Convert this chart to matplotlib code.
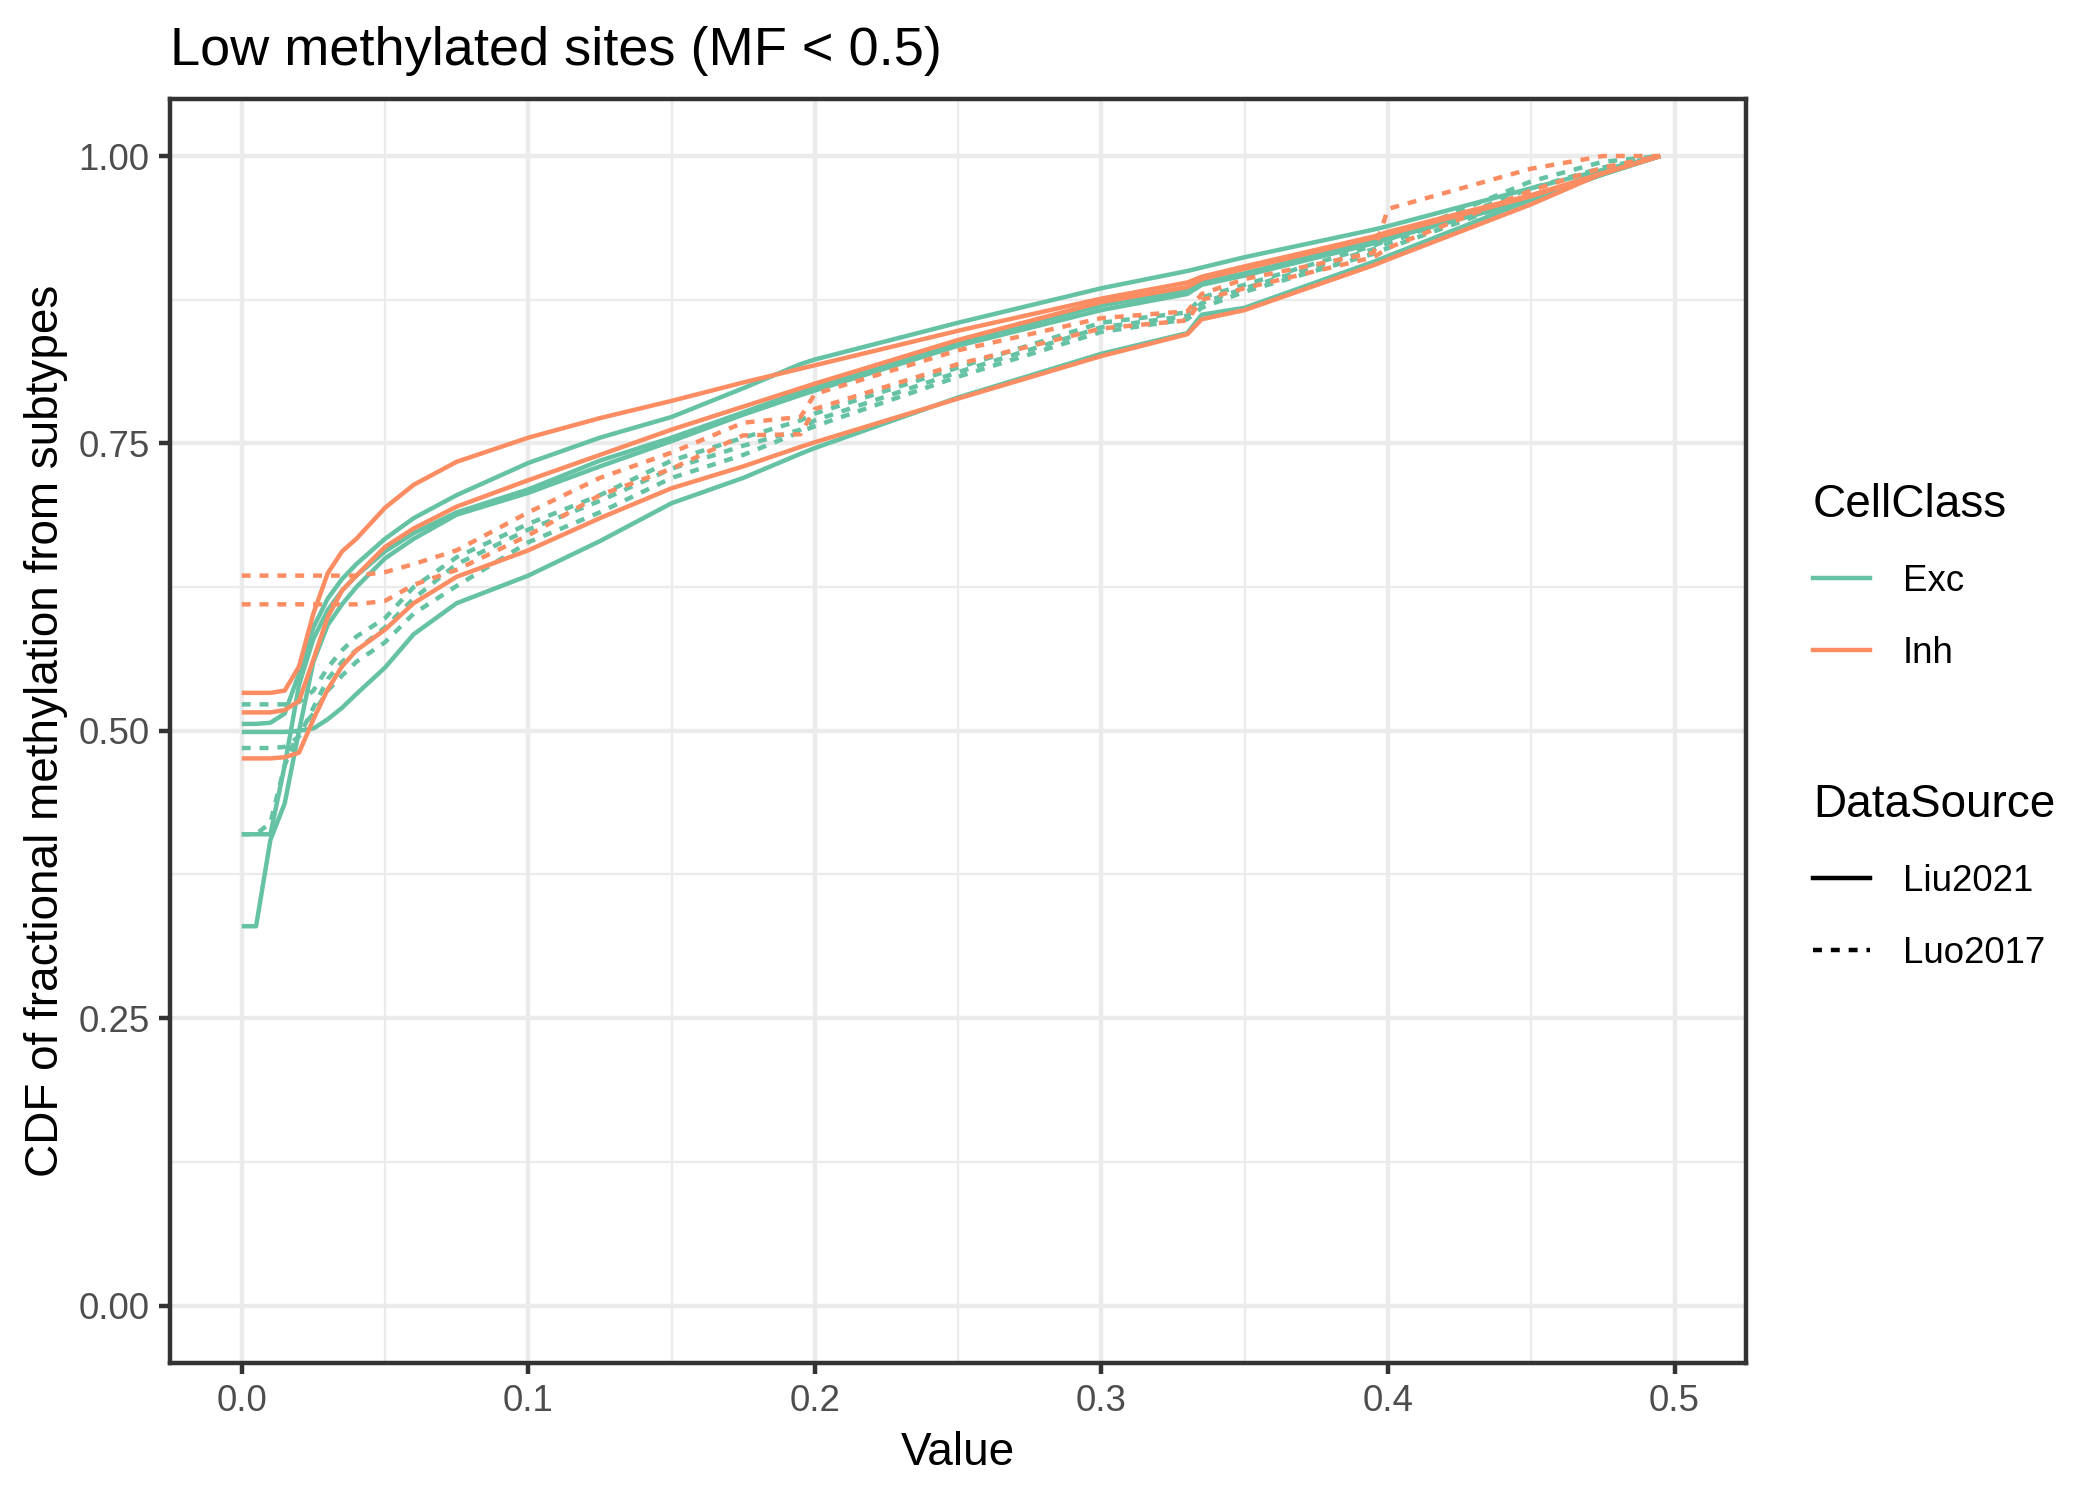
import matplotlib
matplotlib.use("Agg")
from matplotlib import pyplot as plt
from matplotlib.lines import Line2D
from matplotlib.ticker import MultipleLocator, FormatStrFormatter

plt.rcParams['font.family'] = ['Liberation Sans', 'DejaVu Sans']

value = [0, 0.005, 0.01, 0.015, 0.02, 0.025, 0.03, 0.035, 0.04, 0.05, 0.06, 0.075,
         0.1, 0.125, 0.15, 0.175, 0.195, 0.2, 0.25, 0.3, 0.33, 0.335, 0.35,
         0.395, 0.4, 0.45, 0.475, 0.495]

# Exc, Liu2021
exc_liu_1 = [0.506, 0.506, 0.507, 0.515, 0.550, 0.590, 0.615, 0.632, 0.645, 0.667, 0.685, 0.705,
             0.733, 0.755, 0.773, 0.798, 0.819, 0.823, 0.855, 0.885, 0.900, 0.903, 0.912,
             0.936, 0.939, 0.972, 0.988, 1.0]
exc_liu_2 = [0.499, 0.499, 0.499, 0.499, 0.500, 0.502, 0.510, 0.520, 0.532, 0.555, 0.584, 0.611,
             0.635, 0.665, 0.698, 0.720, 0.741, 0.746, 0.790, 0.828, 0.846, 0.862, 0.868,
             0.908, 0.913, 0.962, 0.985, 1.0]
exc_liu_3 = [0.410, 0.410, 0.410, 0.470, 0.540, 0.580, 0.605, 0.622, 0.635, 0.656, 0.672, 0.690,
             0.710, 0.735, 0.755, 0.777, 0.795, 0.799, 0.838, 0.870, 0.883, 0.890, 0.898,
             0.926, 0.930, 0.963, 0.984, 1.0]
exc_liu_4 = [0.330, 0.330, 0.405, 0.437, 0.500, 0.560, 0.592, 0.610, 0.625, 0.650, 0.667, 0.688,
             0.707, 0.730, 0.752, 0.775, 0.792, 0.796, 0.835, 0.866, 0.880, 0.888, 0.896,
             0.924, 0.928, 0.962, 0.984, 1.0]
# Exc, Luo2017
exc_luo_1 = [0.523, 0.523, 0.523, 0.523, 0.525, 0.535, 0.555, 0.570, 0.582, 0.598, 0.625, 0.651,
             0.680, 0.705, 0.735, 0.755, 0.770, 0.776, 0.816, 0.855, 0.864, 0.877, 0.888,
             0.922, 0.927, 0.978, 0.995, 1.0]
exc_luo_2 = [0.485, 0.485, 0.485, 0.486, 0.495, 0.520, 0.545, 0.560, 0.570, 0.590, 0.615, 0.645,
             0.675, 0.700, 0.728, 0.748, 0.762, 0.770, 0.812, 0.851, 0.861, 0.872, 0.885,
             0.919, 0.924, 0.972, 0.990, 1.0]
exc_luo_3 = [0.410, 0.410, 0.420, 0.470, 0.500, 0.515, 0.535, 0.548, 0.560, 0.577, 0.602, 0.626,
             0.664, 0.690, 0.720, 0.740, 0.760, 0.765, 0.808, 0.847, 0.858, 0.868, 0.882,
             0.915, 0.920, 0.965, 0.985, 1.0]
# Inh, Liu2021
inh_liu_1 = [0.533, 0.533, 0.533, 0.535, 0.556, 0.602, 0.637, 0.656, 0.667, 0.694, 0.714, 0.734,
             0.755, 0.772, 0.787, 0.803, 0.815, 0.818, 0.848, 0.876, 0.890, 0.895, 0.904,
             0.930, 0.934, 0.966, 0.985, 1.0]
inh_liu_2 = [0.516, 0.516, 0.516, 0.518, 0.526, 0.562, 0.599, 0.622, 0.635, 0.660, 0.676, 0.695,
             0.718, 0.740, 0.762, 0.782, 0.798, 0.802, 0.840, 0.873, 0.886, 0.893, 0.902,
             0.929, 0.932, 0.965, 0.985, 1.0]
inh_liu_3 = [0.476, 0.476, 0.476, 0.477, 0.481, 0.510, 0.536, 0.556, 0.570, 0.588, 0.611, 0.634,
             0.657, 0.685, 0.711, 0.730, 0.747, 0.751, 0.789, 0.826, 0.845, 0.858, 0.866,
             0.905, 0.910, 0.958, 0.985, 1.0]
# Inh, Luo2017
inh_luo_1 = [0.635, 0.635, 0.635, 0.635, 0.635, 0.635, 0.635, 0.635, 0.635, 0.638, 0.645, 0.657,
             0.690, 0.720, 0.742, 0.768, 0.773, 0.793, 0.831, 0.859, 0.865, 0.880, 0.893,
             0.916, 0.954, 0.989, 1.0, 1.0]
inh_luo_2 = [0.610, 0.610, 0.610, 0.610, 0.610, 0.610, 0.610, 0.610, 0.610, 0.613, 0.627, 0.640,
             0.670, 0.705, 0.728, 0.757, 0.758, 0.780, 0.819, 0.850, 0.857, 0.875, 0.885,
             0.912, 0.920, 0.970, 0.990, 1.0]

exc_liu = [exc_liu_1, exc_liu_2, exc_liu_3, exc_liu_4]
exc_luo = [exc_luo_1, exc_luo_2, exc_luo_3]
inh_liu = [inh_liu_1, inh_liu_2, inh_liu_3]
inh_luo = [inh_luo_1, inh_luo_2]

cell_classes = ['Exc', 'Inh']
data_sources = ['Liu2021', 'Luo2017']
colors = {'Exc': '#66C2A5', 'Inh': '#FC8D62'}
lw = 1.07
dash = (2, 2)

fig = plt.figure(figsize=(7, 5), dpi=300)
ax = fig.add_axes([0.081, 0.0913, 0.7505, 0.843])

groups = [('Exc', 'Liu2021', exc_liu), ('Exc', 'Luo2017', exc_luo),
          ('Inh', 'Liu2021', inh_liu), ('Inh', 'Luo2017', inh_luo)]
for cls, src, curves in groups:
    for cdf in curves:
        if src == 'Liu2021':
            ax.plot(value, cdf, color=colors[cls], lw=lw, solid_capstyle='butt', zorder=3)
        else:
            ax.plot(value, cdf, color=colors[cls], lw=lw, dashes=dash,
                    dash_capstyle='butt', zorder=3)

# ggplot-like expansion of 0..0.5 and 0..1
ax.set_xlim(-0.025, 0.525)
ax.set_ylim(-0.05, 1.05)

ax.xaxis.set_major_locator(MultipleLocator(0.1))
ax.xaxis.set_minor_locator(MultipleLocator(0.05))
ax.yaxis.set_major_locator(MultipleLocator(0.25))
ax.yaxis.set_minor_locator(MultipleLocator(0.125))
ax.xaxis.set_major_formatter(FormatStrFormatter('%.1f'))
ax.yaxis.set_major_formatter(FormatStrFormatter('%.2f'))

ax.grid(which='major', color='#EBEBEB', lw=1.07, zorder=0)
ax.grid(which='minor', color='#EBEBEB', lw=0.53, zorder=0)
ax.set_axisbelow(True)
ax.tick_params(which='major', length=2.75, width=1.07, color='#333333',
               labelsize=8.8, labelcolor='#4D4D4D', pad=2.2)
ax.tick_params(which='minor', length=0)
for sp in ax.spines.values():
    sp.set_color('#333333')
    sp.set_linewidth(1.07)

ax.set_xlabel('Value', fontsize=11, labelpad=3)
ax.set_ylabel('CDF of fractional methylation from subtypes', fontsize=11, labelpad=2.5)
ax.set_title('Low methylated sites (MF < 0.5)', fontsize=13, loc='left', pad=8)

h1 = [Line2D([], [], color=colors[c], lw=lw) for c in cell_classes]
h2 = [Line2D([], [], color='black', lw=lw),
      Line2D([], [], color='black', lw=lw, dashes=dash)]
common = dict(frameon=False, fontsize=8.8, title_fontsize=11, handlelength=1.56,
              handletextpad=0.9, labelspacing=1.0, alignment='left', borderpad=0)
leg1 = fig.legend(h1, cell_classes, title='CellClass', loc='upper left',
                  bbox_to_anchor=(0.8545, 0.690), **common)
leg2 = fig.legend(h2, data_sources, title='DataSource', loc='upper left',
                  bbox_to_anchor=(0.8545, 0.490), **common)

fig.savefig('out.png', dpi=300)
